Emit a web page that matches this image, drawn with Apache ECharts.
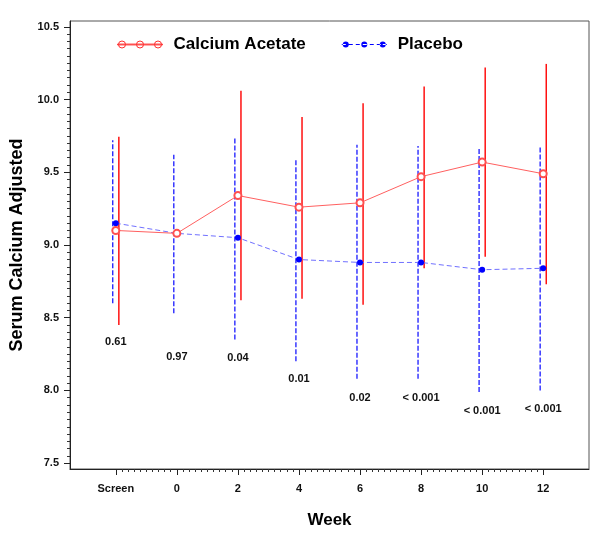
<!DOCTYPE html>
<html><head><meta charset="utf-8">
<script src="https://cdn.jsdelivr.net/npm/echarts@6/dist/echarts.min.js"></script>
<style>html,body{margin:0;padding:0;background:#fff}#c{width:600px;height:539px}</style>
</head><body><div id="c"></div>
<script>
// ---- data ----
const categories = ['Screen','0','2','4','6','8','10','12'];
const weekPos = [-2,0,2,4,6,8,10,12];
const acetateMean = [9.10,9.08,9.34,9.26,9.29,9.47,9.57,9.49];
const acetateLow  = [8.45,null,8.62,8.63,8.59,8.84,8.92,8.73];
const acetateHigh = [9.745,null,10.06,9.88,9.975,10.09,10.22,10.245];
const placeboMean = [9.15,9.08,9.05,8.90,8.88,8.88,8.83,8.84];
const placeboLow  = [8.60,8.53,8.35,8.20,8.08,8.08,7.99,8.00];
const placeboHigh = [9.72,9.62,9.745,9.59,9.69,9.68,9.67,9.68];
const pValues = ['0.61','0.97','0.04','0.01','0.02','< 0.001','< 0.001','< 0.001'];
const pValueY = [8.33,8.23,8.22,8.08,7.95,7.95,7.86,7.87];
const yTicks = [7.5,8.0,8.5,9.0,9.5,10.0,10.5];

const labelFont = 'bold 11px "Liberation Sans", Arial, sans-serif';
const FF = '"Liberation Sans", Arial, sans-serif';

// minor tick positions (axis decoration)
const xMinor = [];
for (let i = 0; i < weekPos.length - 1; i++) {
  for (let k = 1; k < 10; k++) xMinor.push(+(weekPos[i] + (weekPos[i+1]-weekPos[i]) * k / 10).toFixed(3));
}
const yMinor = [];
for (let i = 0; i < yTicks.length - 1; i++) {
  for (let k = 1; k < 10; k++) yMinor.push(+(yTicks[i] + 0.05 * k).toFixed(3));
}

const barOffset = 0.1;
function errData(low, high, off) {
  const out = [];
  weekPos.forEach((w, i) => { if (low[i] != null) out.push([w + off, low[i], high[i]]); });
  return out;
}
function errRender(color, dashed, width) {
  return function (params, api) {
    const p1 = api.coord([api.value(0), api.value(1)]);
    const p2 = api.coord([api.value(0), api.value(2)]);
    return {type:'line', shape:{x1:p1[0], y1:p1[1], x2:p2[0], y2:p2[1]},
      style:{stroke:color, lineWidth:width, lineDash: dashed ? [5,2] : null}};
  };
}

const redIcon = 'path://M0 4.6L45 4.6L45 5.4L0 5.4Z M1 5A3.5 3.5 0 1 0 8 5A3.5 3.5 0 1 0 1 5Z M19 5A3.5 3.5 0 1 0 26 5A3.5 3.5 0 1 0 19 5Z M37 5A3.5 3.5 0 1 0 44 5A3.5 3.5 0 1 0 37 5Z';
const blueIcon = 'path://M0 4.4L4 4.4L4 5.6L0 5.6Z M7 4.4L11 4.4L11 5.6L7 5.6Z M14 4.4L18 4.4L18 5.6L14 5.6Z M21 4.4L25 4.4L25 5.6L21 5.6Z M28 4.4L32 4.4L32 5.6L28 5.6Z M35 4.4L39 4.4L39 5.6L35 5.6Z M41 4.4L45 4.4L45 5.6L41 5.6Z M1 5A3 3 0 1 0 7 5A3 3 0 1 0 1 5Z M19.5 5A3 3 0 1 0 25.5 5A3 3 0 1 0 19.5 5Z M38 5A3 3 0 1 0 44 5A3 3 0 1 0 38 5Z';

const chart = echarts.init(document.getElementById('c'), null, {renderer:'canvas'});
chart.setOption({
  animation:false,
  backgroundColor:'#fff',
  textStyle:{fontFamily:FF},
  grid:{left:70, right:11, top:21, bottom:70, containLabel:false, outerBoundsMode:'none',
        show:true, borderColor:'#555', borderWidth:1, backgroundColor:'transparent'},
  legend:{
    left:110, top:31, itemWidth:45, itemHeight:10, itemGap:36,
    textStyle:{fontFamily:FF, fontWeight:'bold', fontSize:17, color:'#000', padding:[0,0,0,6]},
    data:[
      {name:'Calcium Acetate', icon:redIcon, itemStyle:{color:'none', borderColor:'#ff3030', borderWidth:1}},
      {name:'Placebo', icon:blueIcon, itemStyle:{color:'#0000ff', borderWidth:0}}
    ]
  },
  xAxis:[{
    type:'value', min:-3.5, max:13.5, position:'bottom',
    name:'Week', nameLocation:'middle', nameGap:43,
    nameTextStyle:{fontFamily:FF, fontWeight:'bold', fontSize:17, color:'#000'},
    splitLine:{show:false},
    axisLine:{show:true, onZero:false, lineStyle:{color:'#222', width:1}},
    axisTick:{show:true, customValues:weekPos, length:6, lineStyle:{color:'#222'}},
    axisLabel:{show:true, customValues:weekPos, margin:14, fontFamily:FF, fontWeight:'bold', fontSize:11, color:'#111',
      formatter:function(v){ const i = weekPos.indexOf(v); return i >= 0 ? categories[i] : ''; }}
  },{
    type:'value', min:-3.5, max:13.5, position:'bottom', gridIndex:0,
    splitLine:{show:false}, axisLine:{show:false, onZero:false},
    axisTick:{show:true, customValues:xMinor, length:3, lineStyle:{color:'#333'}},
    axisLabel:{show:false}
  }],
  yAxis:[{
    type:'value', min:7.46, max:10.54, position:'left',
    name:'Serum Calcium Adjusted', nameLocation:'middle', nameGap:44, nameRotate:90,
    nameTextStyle:{fontFamily:FF, fontWeight:'bold', fontSize:18, color:'#000'},
    splitLine:{show:false},
    axisLine:{show:true, onZero:false, lineStyle:{color:'#222', width:1}},
    axisTick:{show:true, customValues:yTicks, length:6, lineStyle:{color:'#222'}},
    axisLabel:{show:true, customValues:yTicks, margin:11, fontFamily:FF, fontWeight:'bold', fontSize:11, color:'#111',
      formatter:function(v){ return v.toFixed(1); }}
  },{
    type:'value', min:7.46, max:10.54, position:'left', gridIndex:0,
    splitLine:{show:false}, axisLine:{show:false, onZero:false},
    axisTick:{show:true, customValues:yMinor, length:3, lineStyle:{color:'#333'}},
    axisLabel:{show:false}
  }],
  series:[
    {type:'custom', name:'placeboErr', xAxisIndex:0, yAxisIndex:0, z:2,
     renderItem:errRender('#1a1aff', true, 1.3), data:errData(placeboLow, placeboHigh, -barOffset), silent:true},
    {type:'custom', name:'acetateErr', xAxisIndex:0, yAxisIndex:0, z:2,
     renderItem:errRender('#ff1010', false, 1.5), data:errData(acetateLow, acetateHigh, barOffset), silent:true},
    {type:'line', name:'Placebo', xAxisIndex:0, yAxisIndex:0, z:4,
     data:weekPos.map((w,i)=>[w, placeboMean[i]]),
     symbol:'circle', symbolSize:6, itemStyle:{color:'#0000ff'},
     lineStyle:{color:'#7070ff', width:1, type:[5,3]}},
    {type:'line', name:'Calcium Acetate', xAxisIndex:0, yAxisIndex:0, z:5,
     data:weekPos.map((w,i)=>[w, acetateMean[i]]),
     symbol:'emptyCircle', symbolSize:7, itemStyle:{color:'#ff5050', borderWidth:1},
     lineStyle:{color:'#ff6060', width:1}},
    {type:'custom', name:'pvals', xAxisIndex:0, yAxisIndex:0, z:6, silent:true,
     data:weekPos.map((w,i)=>[w, pValueY[i], i]),
     renderItem:function(params, api){
       const p = api.coord([api.value(0), api.value(1)]);
       return {type:'text', x:p[0], y:p[1],
         style:{text:pValues[api.value(2)], font:labelFont, fill:'#111', align:'center', verticalAlign:'middle'}};
     }}
  ]
});
</script></body></html>
